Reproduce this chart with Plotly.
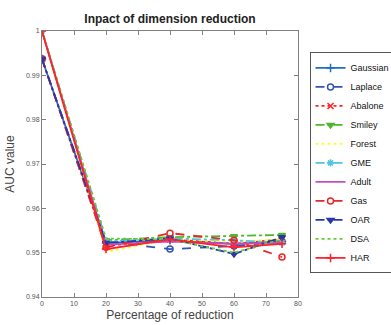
import plotly.graph_objects as go

x_pct = [0, 20, 40, 60, 75]
names = ["Gaussian", "Laplace", "Abalone", "Smiley", "Forest", "GME", "Adult", "Gas", "OAR", "DSA", "HAR"]
gaussian = [0.9937, 0.9522, 0.9528, 0.9520, 0.9525]
laplace = [0.9937, 0.9525, 0.9508, 0.9515, 0.9525]
abalone = [0.9937, 0.9515, 0.9530, 0.9520, 0.9530]
smiley = [1.0, 0.9528, 0.9535, 0.9537, 0.9540]
forest = [1.0, 0.9502, 0.9530, 0.9525, 0.9530]
gme = [1.0, 0.9525, 0.9532, 0.9528, 0.9522]
adult = [1.0, 0.9518, 0.9525, 0.9520, 0.9522]
gas = [0.9937, 0.9512, 0.9544, 0.9528, 0.9490]
oar = [0.9937, 0.9522, 0.9532, 0.9497, 0.9535]
dsa = [1.0, 0.9532, 0.9530, 0.9500, 0.9530]
har = [1.0, 0.9508, 0.9530, 0.9512, 0.9520]
series = [gaussian, laplace, abalone, smiley, forest, gme, adult, gas, oar, dsa, har]

y_ticks = [0.94, 0.95, 0.96, 0.97, 0.98, 0.99, 1.0]
y_tick_labels = ["0.94", "0.95", "0.96", "0.97", "0.98", "0.99", "1"]
x_ticks = [0, 10, 20, 30, 40, 50, 60, 70, 80]

styles = [
    dict(color="#1f6fc0", dash="solid", symbol="cross-thin-open"),
    dict(color="#3555b0", dash="dash", symbol="circle-open"),
    dict(color="#ff2020", dash="dot", symbol="x-thin-open"),
    dict(color="#4cb82a", dash="dashdot", symbol="triangle-down"),
    dict(color="#ffff20", dash="dot", symbol=None),
    dict(color="#4dc4e0", dash="dashdot", symbol="asterisk-open"),
    dict(color="#c050c0", dash="solid", symbol=None),
    dict(color="#e82828", dash="dash", symbol="circle-open"),
    dict(color="#2838a8", dash="dashdot", symbol="triangle-down"),
    dict(color="#66cc33", dash="dot", symbol=None),
    dict(color="#ff2030", dash="solid", symbol="cross-thin-open"),
]

fig = go.Figure()
for name, ys, st in zip(names, series, styles):
    mode = "lines+markers" if st["symbol"] else "lines"
    marker = dict(symbol=st["symbol"], size=6, color=st["color"],
                  line=dict(color=st["color"], width=1.5)) if st["symbol"] else None
    fig.add_trace(go.Scatter(x=x_pct, y=ys, name=name, mode=mode,
                             line=dict(color=st["color"], dash=st["dash"], width=1.8),
                             marker=marker))

axis_common = dict(showgrid=False, zeroline=False, showline=True, mirror="ticks",
                   linecolor="#808080", linewidth=1, ticks="inside", ticklen=4,
                   tickcolor="#808080", automargin=False,
                   tickfont=dict(size=7, color="#555555", family="Liberation Sans"))
fig.update_layout(
    width=391, height=325,
    margin=dict(l=42, r=93, t=31, b=28, autoexpand=False),
    paper_bgcolor="white", plot_bgcolor="white",
    title=dict(text="<b>Inpact of dimension reduction</b>", x=170 / 391, xanchor="center",
               y=1 - 19 / 325, yanchor="middle",
               font=dict(size=12, color="#222222", family="Liberation Sans")),
    xaxis=dict(range=[0, 80], tickvals=x_ticks, **axis_common,
               title=dict(text="Percentage of reduction", standoff=4,
                          font=dict(size=12, color="#444444", family="Liberation Sans"))),
    yaxis=dict(range=[0.94, 1.0], tickvals=y_ticks, ticktext=y_tick_labels, **axis_common,
               title=dict(text="AUC value", standoff=8,
                          font=dict(size=12, color="#444444", family="Liberation Sans"))),
    legend=dict(x=1.045, y=0.504, xanchor="left", yanchor="middle",
                bordercolor="#555555", borderwidth=1, bgcolor="white",
                font=dict(size=9, color="#111111", family="Liberation Sans"),
                tracegroupgap=0, itemwidth=30),
    showlegend=True,
)
fig.write_html("out.html", config={"displayModeBar": False},
               post_script="document.body.style.margin='0';")
